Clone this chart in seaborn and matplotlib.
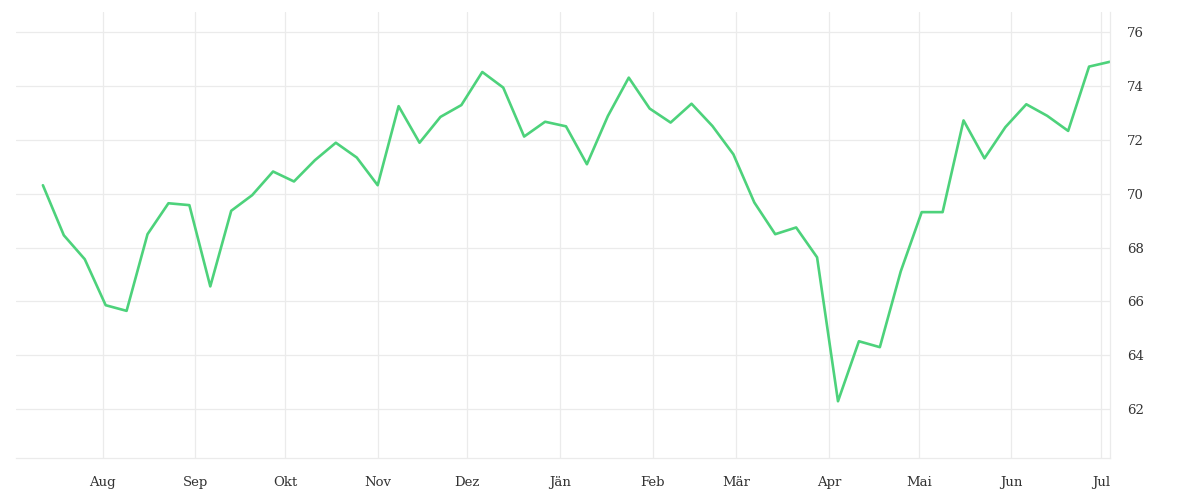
import pandas as pd
import numpy as np
import matplotlib.pyplot as plt
import matplotlib.dates as mdates
import seaborn as sns

# weekly values
start_date = '2020-07-12'
values = [70.32, 68.46, 67.57, 65.86, 65.65, 68.50, 69.65, 69.58, 66.56, 69.37,
          69.95, 70.83, 70.46, 71.25, 71.90, 71.35, 70.32, 73.26, 71.90, 72.86,
          73.30, 74.53, 73.95, 72.13, 72.68, 72.51, 71.10, 72.89, 74.32, 73.17,
          72.65, 73.35, 72.52, 71.47, 69.68, 68.50, 68.75, 67.64, 62.29, 64.52,
          64.30, 67.12, 69.32, 69.32, 72.73, 71.32, 72.48, 73.33, 72.90, 72.34,
          74.73, 74.91]
month_labels = ['Aug', 'Sep', 'Okt', 'Nov', 'Dez', 'Jän', 'Feb', 'Mär', 'Apr', 'Mai', 'Jun', 'Jul']
y_ticks = [62, 64, 66, 68, 70, 72, 74, 76]

df = pd.DataFrame({
    'date': pd.date_range(start_date, periods=len(values), freq='7D'),
    'value': values,
})
month_starts = pd.date_range('2020-08-01', periods=len(month_labels), freq='MS')

sns.set_style("white")
plt.rcParams['font.family'] = ['DejaVu Serif']

fig = plt.figure(figsize=(12, 5), dpi=100)
ax = fig.add_axes([16 / 1200, 1 - 458 / 500, (1110 - 16) / 1200, (458 - 12) / 500])

sns.lineplot(data=df, x='date', y='value', ax=ax, color='#4dd27b', linewidth=1.9)

grid_col = '#ebebeb'
ax.set_xlim(df['date'].iloc[0] - pd.Timedelta(days=9), df['date'].iloc[-1])
ax.set_ylim(60.18, 76.76)

ax.set_xticks(month_starts)
ax.set_xticklabels(month_labels)
ax.set_yticks(y_ticks)
ax.yaxis.tick_right()

ax.grid(True, color=grid_col, linewidth=0.9)
ax.set_axisbelow(True)

for s in ['top', 'left']:
    ax.spines[s].set_visible(False)
for s in ['bottom', 'right']:
    ax.spines[s].set_color(grid_col)
    ax.spines[s].set_linewidth(0.9)

ax.tick_params(axis='x', length=7, color=grid_col, width=0.9, labelsize=9.5,
               labelcolor='#333333', pad=6)
ax.tick_params(axis='y', length=0, labelsize=9.5, labelcolor='#333333', pad=12)

ax.set_xlabel('')
ax.set_ylabel('')

plt.savefig('out.png', dpi=100)
